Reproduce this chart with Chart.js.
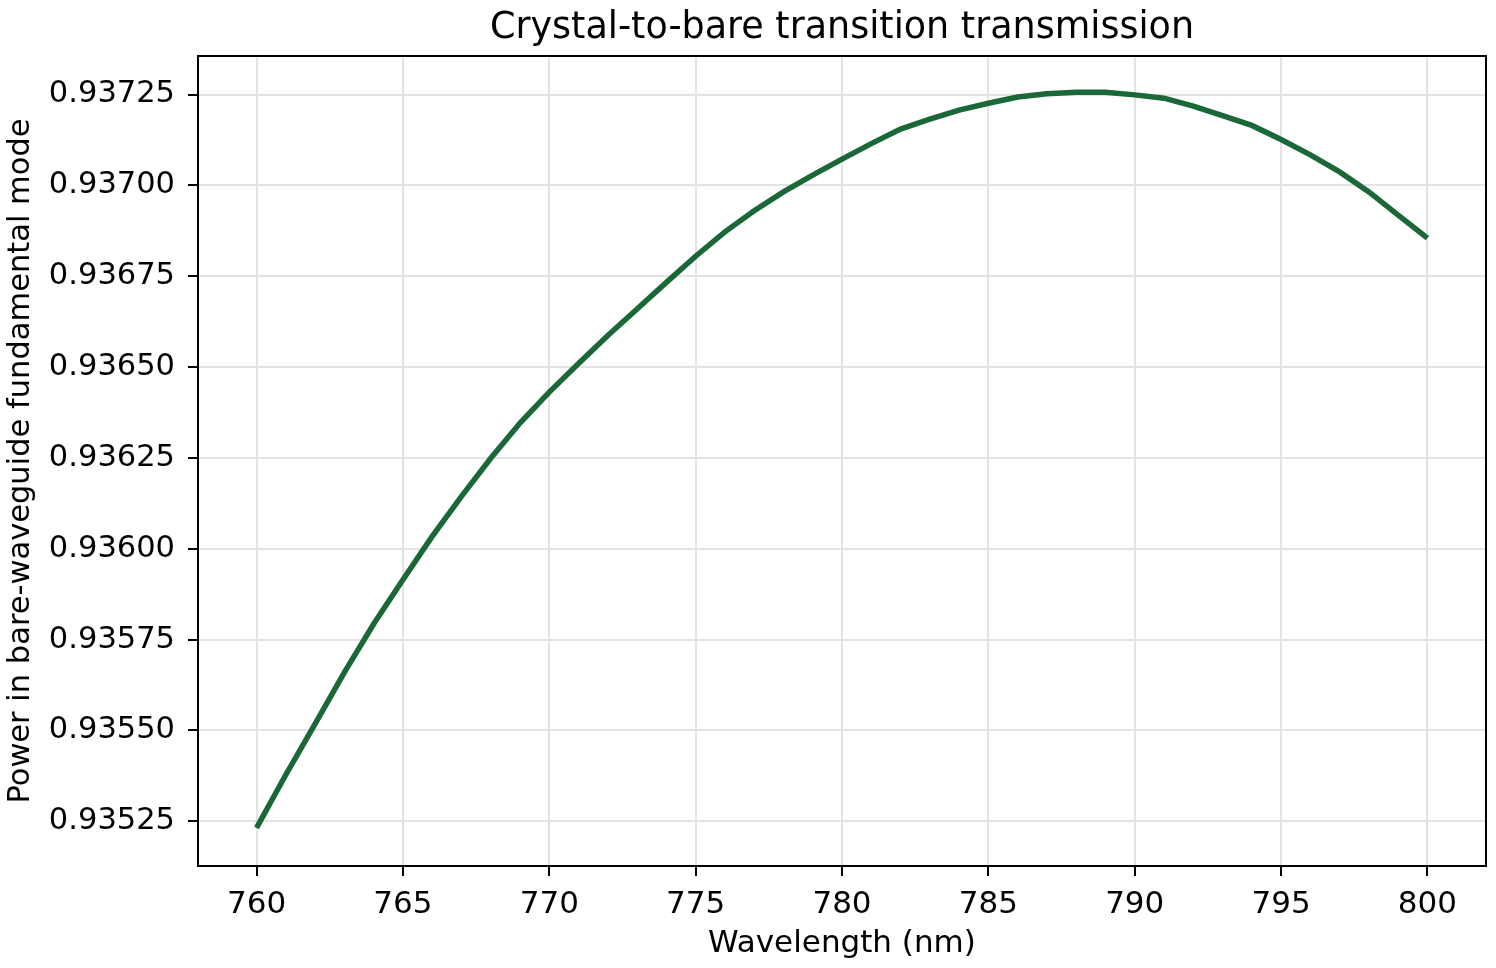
<!DOCTYPE html>
<html>
<head>
<meta charset="utf-8">
<script src="https://cdn.jsdelivr.net/npm/chart.js@4"></script>
<style>
  html, body { margin: 0; padding: 0; background: #fff; }
  #wrap { width: 1496px; height: 968px; }
</style>
</head>
<body>
<div id="wrap"><canvas id="transmission"></canvas></div>
<script>
// wavelength in nm, 1 nm steps
const wavelengths = [760, 761, 762, 763, 764, 765, 766, 767, 768, 769,
                     770, 771, 772, 773, 774, 775, 776, 777, 778, 779,
                     780, 781, 782, 783, 784, 785, 786, 787, 788, 789,
                     790, 791, 792, 793, 794, 795, 796, 797, 798, 799, 800];
// power in bare-waveguide fundamental mode
const power = [0.935232, 0.935378, 0.935518, 0.935660, 0.935793, 0.935915, 0.936034, 0.936144, 0.936249, 0.936346,
               0.936431, 0.936510, 0.936587, 0.936660, 0.936733, 0.936805, 0.936872, 0.936930, 0.936982, 0.937028,
               0.937072, 0.937115, 0.937155, 0.937182, 0.937207, 0.937226, 0.937243, 0.937252, 0.937256, 0.937256,
               0.937249, 0.937240, 0.937218, 0.937192, 0.937165, 0.937126, 0.937084, 0.937037, 0.936982, 0.936918,
               0.936855];
const xTicks = [760, 765, 770, 775, 780, 785, 790, 795, 800];
const yTicks = [0.93525, 0.93550, 0.93575, 0.93600, 0.93625, 0.93650, 0.93675, 0.93700, 0.93725];

const font = 'DejaVu Sans';

// matplotlib-style box around the plot area
const frame = {
    id: 'frame',
    afterDraw(chart) {
        const a = chart.chartArea;
        const c = chart.ctx;
        c.save();
        c.strokeStyle = '#000';
        c.lineWidth = 2;
        c.strokeRect(a.left, a.top, a.right - a.left, a.bottom - a.top);
        c.restore();
    }
};

const grid = { color: '#e3e3e3', lineWidth: 2, tickColor: '#000', tickWidth: 2, tickLength: 10 };

const ctx = document.getElementById('transmission').getContext('2d');
new Chart(ctx, {
    type: 'line',
    data: {
        datasets: [{
            data: wavelengths.map((w, i) => ({ x: w, y: power[i] })),
            borderColor: '#1a6837',
            borderWidth: 5.5,
            pointRadius: 0,
            tension: 0,
            fill: false
        }]
    },
    options: {
        responsive: true,
        maintainAspectRatio: false,
        devicePixelRatio: 1,
        animation: false,
        layout: { padding: { left: 0, right: 10, top: 0, bottom: 0 } },
        plugins: {
            legend: { display: false },
            tooltip: { enabled: false }
        },
        scales: {
            x: {
                type: 'linear',
                min: 758,
                max: 802,
                afterBuildTicks: s => { s.ticks = xTicks.map(v => ({ value: v })); },
                afterFit: s => { s.height = 102; },
                ticks: {
                    color: '#000',
                    font: { family: font, size: 31 },
                    padding: 10,
                    maxRotation: 0,
                    callback: v => String(v)
                },
                grid: grid,
                border: { display: true, color: '#000', width: 2 },
                title: {
                    display: true,
                    text: 'Wavelength (nm)',
                    color: '#000',
                    font: { family: font, size: 31 },
                    padding: { top: 0, bottom: 5 }
                }
            },
            // top axis only carries the title, so it centres over the plot area
            top: {
                type: 'linear',
                position: 'top',
                min: 758,
                max: 802,
                afterFit: s => { s.height = 56; },
                ticks: { display: false },
                grid: { display: false, drawTicks: false },
                border: { display: false },
                title: {
                    display: true,
                    text: 'Crystal-to-bare transition transmission',
                    color: '#000',
                    font: { family: font, size: 36.5 },
                    padding: { top: 7, bottom: 0 }
                }
            },
            y: {
                type: 'linear',
                min: 0.935127,
                max: 0.937356,
                afterBuildTicks: s => { s.ticks = yTicks.map(v => ({ value: v })); },
                afterFit: s => { s.width = 198; },
                ticks: {
                    color: '#000',
                    font: { family: font, size: 30.5 },
                    padding: 13,
                    callback: v => v.toFixed(5)
                },
                grid: grid,
                border: { display: true, color: '#000', width: 2 },
                title: {
                    display: true,
                    text: 'Power in bare-waveguide fundamental mode',
                    color: '#000',
                    font: { family: font, size: 30.5 },
                    padding: { top: 3, bottom: 0 }
                }
            }
        }
    },
    plugins: [frame]
});
</script>
</body>
</html>
